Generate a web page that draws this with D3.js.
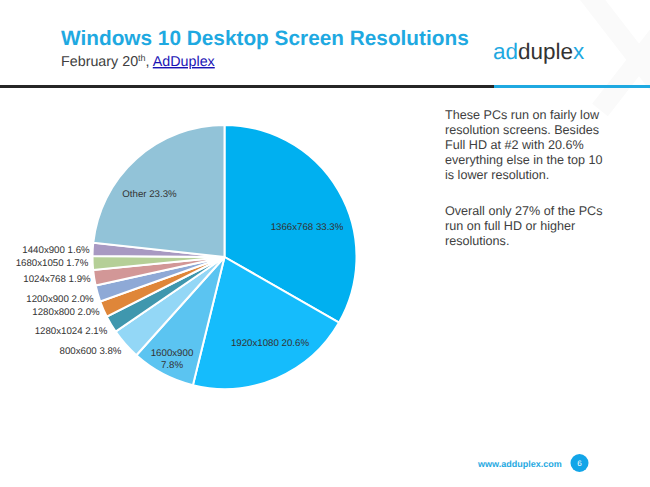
<!DOCTYPE html>
<html>
<head>
<meta charset="utf-8">
<script src="https://cdn.jsdelivr.net/npm/d3@7/dist/d3.min.js"></script>
<style>
html, body { margin: 0; padding: 0; background: #fff; }
svg { display: block; }
text { font-family: "Liberation Sans", Arial, sans-serif; text-rendering: geometricPrecision; }
</style>
</head>
<body>
<script>
const categories = ["1366x768", "1920x1080", "1600x900", "800x600", "1280x1024", "1280x800",
    "1200x900", "1024x768", "1680x1050", "1440x900", "Other"];
const shares = [33.3, 20.6, 7.8, 3.8, 2.1, 2.0, 2.0, 1.9, 1.7, 1.6, 23.3];
const colors = ["#00b0f0", "#15bcfc", "#5bc4f1", "#93d7f6", "#3f97ae", "#df8639",
    "#8ea9d6", "#d29797", "#b5cf97", "#a899c2", "#92c3d8"];
const labelAnchors = [[307, 230], [270, 346], [172, 356], [90.5, 354], [71, 334], [66, 315],
    [60, 302], [57, 282], [52, 266], [56, 253], [149.5, 197]];
const noteLines = ["These PCs run on fairly low", "resolution screens. Besides", "Full HD at #2 with 20.6%",
    "everything else in the top 10", "is lower resolution."];
const noteLines2 = ["Overall only 27% of the PCs", "run on full HD or higher", "resolutions."];

const width = 650,
    height = 487,
    radius = 132;

const svg = d3.select("body")
    .append("svg")
    .attr("width", width)
    .attr("height", height);

// faint X in the corner
svg.append("g")
    .attr("stroke", "#fafafa")
    .attr("stroke-width", 20)
    .selectAll("line")
    .data([[585, -10, 670, 100], [670, 20, 600, 110]])
    .enter()
    .append("line")
    .attr("x1", d => d[0]).attr("y1", d => d[1])
    .attr("x2", d => d[2]).attr("y2", d => d[3]);

// header
svg.append("text")
    .attr("x", 61).attr("y", 45)
    .attr("font-size", 20.8)
    .attr("font-weight", "bold")
    .attr("fill", "#1fa9e1")
    .text("Windows 10 Desktop Screen Resolutions");

const sub = svg.append("text")
    .attr("x", 61).attr("y", 66)
    .attr("font-size", 14.3)
    .attr("fill", "#404040");
sub.append("tspan").text("February 20");
sub.append("tspan").attr("font-size", 9).attr("dy", -5).text("th");
sub.append("tspan").attr("dy", 5).text(", ");
sub.append("tspan").attr("fill", "#1a13b5").attr("text-decoration", "underline").text("AdDuplex");

const logo = svg.append("text")
    .attr("x", 493).attr("y", 59)
    .attr("font-size", 22.5)
    .attr("font-family", "Open Sans")
    .attr("font-weight", 300)
    .attr("fill", "#333");
logo.append("tspan").attr("fill", "#1fa9e1").text("ad");
logo.append("tspan").text("duple");
logo.append("tspan").attr("fill", "#1fa9e1").text("x");

svg.append("rect").attr("x", 0).attr("y", 85).attr("width", 494).attr("height", 3).attr("fill", "#262626");
svg.append("rect").attr("x", 494).attr("y", 85).attr("width", 156).attr("height", 3).attr("fill", "#1fa9e1");

// pie
const pie = d3.pie().sort(null)(shares);
const arc = d3.arc().innerRadius(0).outerRadius(radius);

const slices = svg.append("g")
    .attr("transform", "translate(224.5,257)");

slices.selectAll("path")
    .data(pie)
    .enter()
    .append("path")
    .attr("d", arc)
    .attr("fill", function(d, i) { return colors[i]; })
    .attr("stroke", "#fff")
    .attr("stroke-width", 2);

// labels
const labels = svg.append("g")
    .attr("font-size", 9.7)
    .attr("fill", "#333")
    .attr("text-anchor", "middle");

categories.forEach(function(name, i) {
    const t = labels.append("text")
        .attr("x", labelAnchors[i][0])
        .attr("y", labelAnchors[i][1]);
    if (name === "1600x900") {
        t.append("tspan").attr("x", labelAnchors[i][0]).attr("y", labelAnchors[i][1]).text(name);
        t.append("tspan").attr("x", labelAnchors[i][0]).attr("dy", 11.5).text(shares[i].toFixed(1) + "%");
    } else {
        t.text(name + " " + shares[i].toFixed(1) + "%");
    }
});

// side note
const note = svg.append("g")
    .attr("font-size", 12.6)
    .attr("fill", "#404040");

note.selectAll("text.a")
    .data(noteLines)
    .enter()
    .append("text")
    .attr("x", 445)
    .attr("y", function(d, i) { return 118.5 + i * 15; })
    .text(function(d) { return d; });

note.selectAll("text.b")
    .data(noteLines2)
    .enter()
    .append("text")
    .attr("x", 445)
    .attr("y", function(d, i) { return 215 + i * 15; })
    .text(function(d) { return d; });

// footer
svg.append("text")
    .attr("x", 478).attr("y", 467)
    .attr("font-size", 9)
    .attr("font-weight", "bold")
    .attr("fill", "#1fa9e1")
    .text("www.adduplex.com");
svg.append("circle").attr("cx", 579.5).attr("cy", 463).attr("r", 9).attr("fill", "#12a5e8");
svg.append("text")
    .attr("x", 579.5).attr("y", 466)
    .attr("font-size", 8)
    .attr("text-anchor", "middle")
    .attr("fill", "#fff")
    .text("6");
</script>
</body>
</html>
